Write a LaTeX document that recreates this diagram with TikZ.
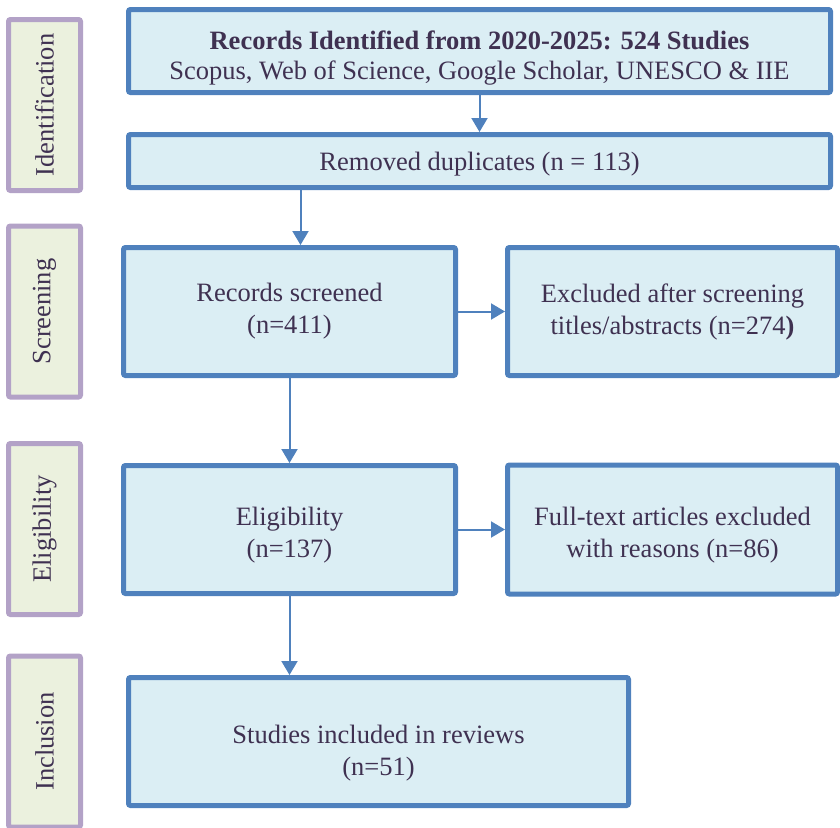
\documentclass[tikz,border=0pt]{standalone}
\usepackage{fontspec}
\setmainfont{Liberation Serif}
\usetikzlibrary{arrows.meta,positioning}
\definecolor{boxblue}{HTML}{4F81BD}
\definecolor{boxfill}{HTML}{DBEEF4}
\definecolor{phaseline}{HTML}{B3A2C7}
\definecolor{phasefill}{HTML}{EBF1DE}
\definecolor{txt}{HTML}{3F3151}
\newcommand\toppad[1]{\rule{0pt}{#1}}

\begin{document}
\begin{tikzpicture}[
  x=1pt, y=-1pt,
  >={Triangle[width=16pt,length=14pt]},
  node distance=47pt,
  box/.style={draw=boxblue, line width=5pt, fill=boxfill, rounded corners=2pt, align=center, text=txt, inner sep=0pt, font=\fontsize{26.5}{32}\selectfont},
  phase/.style={draw=phaseline, line width=5pt, fill=phasefill, rounded corners=2pt, rotate=90, minimum width=171pt, minimum height=72pt, text=txt, font=\fontsize{26.5}{32}\selectfont},
  flow/.style={->, color=boxblue, line width=2pt}
]
\useasboundingbox (0,0) rectangle (840,827);

% phase labels
\node[phase] (pident) at (44.5,105) {Identification};
\node[phase] (pscreen) at (44.5,311.5) {Screening};
\node[phase] (pelig) at (44.5,529) {Eligibility};
\node[phase] (pincl) at (44.5,741.5) {Inclusion};

% flow boxes
\node[box, minimum width=702pt, minimum height=83pt, font=\fontsize{26.5}{30}\selectfont] (ident) at (479.5,51)
  {\toppad{33pt}{\bfseries Records Identified from 2020-2025: 524 Studies}\\Scopus, Web of Science, Google Scholar, UNESCO \& IIE};
\node[box, minimum width=702pt, minimum height=53pt] (dups) at (479.5,161) {\toppad{24pt}Removed duplicates (n = 113)};
\node[box, minimum width=332pt, minimum height=128pt] (screen) at (289.5,311.5) {Records screened\\(n=411)};
\node[box, minimum width=330pt, minimum height=128pt, right=of screen] (exclA) {Excluded after screening\\titles/abstracts (n=274\textbf{)}};
\node[box, minimum width=332pt, minimum height=128pt] (elig) at (289.5,529.5) {\toppad{30pt}Eligibility\\(n=137)};
\node[box, minimum width=330pt, minimum height=129pt, right=of elig] (exclB) {\toppad{30pt}Full-text articles excluded\\with reasons (n=86)};
\node[box, minimum width=500pt, minimum height=128pt] (incl) at (378.5,741.5) {\toppad{42pt}Studies included in reviews\\(n=51)};

\coordinate (drop) at ([xshift=11pt]screen.north);

\draw[flow] (ident) -- (dups);
\draw[flow] (dups.south -| drop) -- (drop);
\draw[flow] (screen) -- (exclA);
\draw[flow] (screen) -- (elig);
\draw[flow] (elig) -- (exclB);
\draw[flow] (elig.south) -- (elig.south |- incl.north);
\end{tikzpicture}
\end{document}
